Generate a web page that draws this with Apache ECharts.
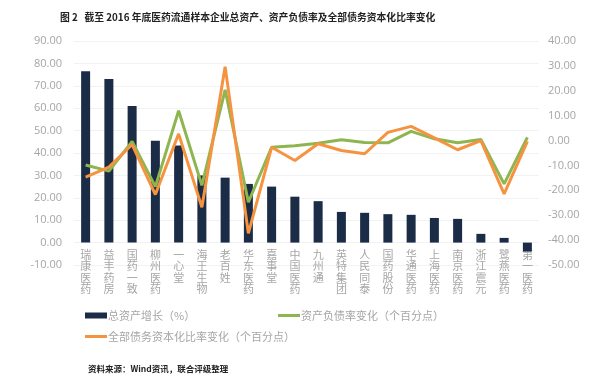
<!DOCTYPE html>
<html>
<head>
<meta charset="utf-8">
<script src="https://cdn.jsdelivr.net/npm/echarts@6/dist/echarts.min.js"></script>
<style>
  html, body { margin: 0; padding: 0; background: #fff; }
  #chart { width: 590px; height: 378px; }
</style>
</head>
<body>
<div id="chart"></div>
<script>
// 企业名称
const categories = ['瑞康医药', '益丰药房', '国药一致', '柳州医药', '一心堂', '海王生物', '老百姓', '华东医药', '嘉事堂', '中国医药',
  '九州通', '英特集团', '人民同泰', '国药股份', '华通医药', '上海医药', '南京医药', '浙江震元', '鹭燕医药', '第一医药'];
// 总资产增长（%）- 左轴
const assetGrowth = [76.5, 73, 61, 45.5, 43.3, 30, 29, 26.2, 25, 20.5, 18.5, 13.7, 13.3, 12.7, 12.4, 11, 10.6, 3.9, 2.1, -4];
// 资产负债率变化（个百分点）- 右轴
const debtRatioChg = [-9.8, -12.3, -0.4, -18.5, 12, -18, 20.4, -24.8, -2.7, -2.1, -1.1, 0.3, -0.8, -0.9, 3.7, 0.7, -0.9, 0.4, -17.4, 1.3];
// 全部债务资本化比率变化（个百分点）- 右轴
const debtCapChg = [-14.7, -10.7, -1.6, -21.7, 2.7, -26.8, 29.7, -37.3, -2.7, -8, -1.3, -4, -5.3, 3.3, 5.7, 1.1, -3.7, 0, -21.4, -0.3];

const seriesNames = ['总资产增长（%）', '资产负债率变化（个百分点）', '全部债务资本化比率变化（个百分点）'];

const gray = '#a6a6a6';
const cjk = '"Noto Sans CJK SC", sans-serif';

const gridTop = 41;
const gridBottom = 113;
const gridHeight = 378 - gridTop - gridBottom;
const leftMin = -10;
const leftMax = 90;
// 类目轴放在左轴 0 刻度处（向上偏移）
const zeroOffset = -gridHeight * (0 - leftMin) / (leftMax - leftMin);

const myChart = echarts.init(document.getElementById('chart'));

const option = {
  animation: false,
  title: [
    {
      text: '图 2   截至 2016 年底医药流通样本企业总资产、资产负债率及全部债务资本化比率变化',
      left: 55,
      top: 7,
      textStyle: { fontSize: 9.8, fontWeight: 'bold', color: '#222', fontFamily: cjk },
    },
    {
      text: '资料来源：Wind资讯，联合评级整理',
      left: 83,
      top: 360,
      textStyle: { fontSize: 8.5, fontWeight: 'bold', color: '#222', fontFamily: cjk },
    },
  ],
  legend: [
    {
      data: [seriesNames[0]],
      left: 80, top: 305,
      itemWidth: 22, itemHeight: 6, icon: 'rect',
      textStyle: { color: gray, fontSize: 11, fontFamily: cjk, padding: [0, 0, 0, -4] },
    },
    {
      data: [seriesNames[1]],
      left: 273, top: 305,
      itemWidth: 22, itemHeight: 3, icon: 'rect',
      textStyle: { color: gray, fontSize: 11, fontFamily: cjk, padding: [0, 0, 0, -4] },
    },
    {
      data: [seriesNames[2]],
      left: 80, top: 326,
      itemWidth: 22, itemHeight: 3, icon: 'rect',
      textStyle: { color: gray, fontSize: 11, fontFamily: cjk, padding: [0, 0, 0, -4] },
    },
  ],
  grid: { left: 74, right: 51, top: gridTop, bottom: gridBottom },
  xAxis: {
    type: 'category',
    data: categories,
    offset: zeroOffset,
    axisLine: { show: false, onZero: false },
    axisTick: { show: false },
    axisLabel: {
      interval: 0,
      margin: 6,
      formatter: (v) => v.split('').map((c) => '{c|' + c + '}').join('\n'),
      rich: {
        c: { color: gray, fontSize: 11, lineHeight: 11.5, fontFamily: cjk },
      },
    },
  },
  yAxis: [
    {
      type: 'value',
      min: leftMin, max: leftMax, interval: 10,
      axisLine: { show: false },
      axisTick: { show: false },
      axisLabel: { color: gray, fontSize: 11, fontFamily: '"Open Sans", sans-serif', margin: 12, formatter: (v) => v.toFixed(2) },
      splitLine: { lineStyle: { color: '#f2f2f2' } },
    },
    {
      type: 'value',
      min: -50, max: 40, interval: 10,
      axisLine: { show: false },
      axisTick: { show: false },
      axisLabel: { color: gray, fontSize: 11, fontFamily: '"Open Sans", sans-serif', margin: 9, formatter: (v) => v.toFixed(2) },
      splitLine: { show: false },
    },
  ],
  series: [
    {
      name: seriesNames[0],
      type: 'bar',
      data: assetGrowth,
      barWidth: 9,
      itemStyle: { color: '#1b2c47' },
    },
    {
      name: seriesNames[1],
      type: 'line',
      yAxisIndex: 1,
      data: debtRatioChg,
      symbol: 'none',
      lineStyle: { width: 3, color: '#8db650' },
      itemStyle: { color: '#8db650' },
    },
    {
      name: seriesNames[2],
      type: 'line',
      yAxisIndex: 1,
      data: debtCapChg,
      symbol: 'none',
      lineStyle: { width: 3, color: '#f59340' },
      itemStyle: { color: '#f59340' },
    },
  ],
};

myChart.setOption(option);
</script>
</body>
</html>
